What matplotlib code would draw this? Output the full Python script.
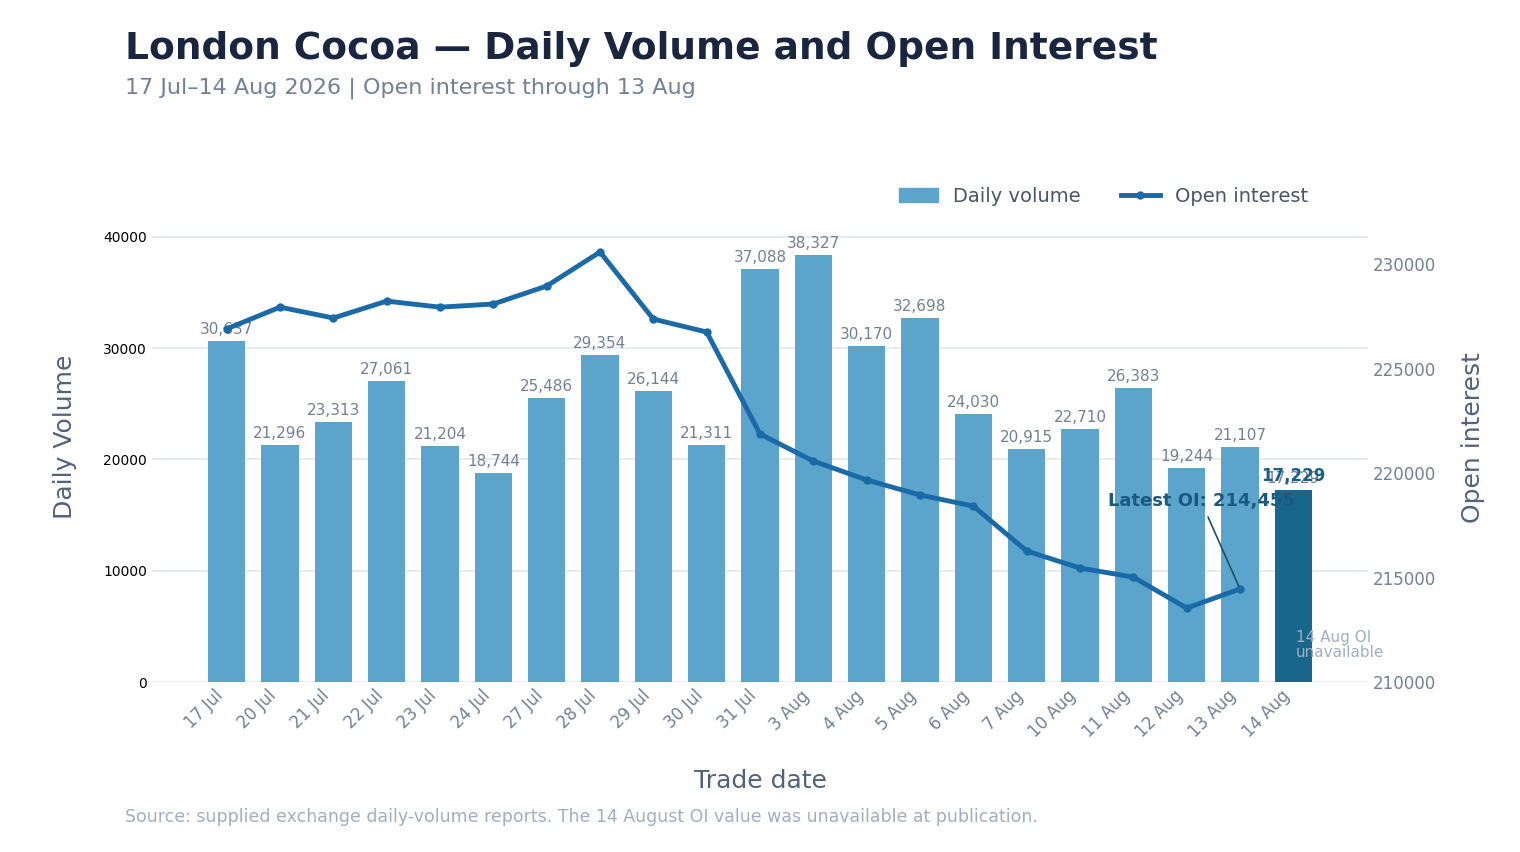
import matplotlib
matplotlib.use("Agg")
import matplotlib.pyplot as plt
import numpy as np

dates = ["17 Jul", "20 Jul", "21 Jul", "22 Jul", "23 Jul", "24 Jul", "27 Jul", "28 Jul",
         "29 Jul", "30 Jul", "31 Jul", "3 Aug", "4 Aug", "5 Aug", "6 Aug", "7 Aug",
         "10 Aug", "11 Aug", "12 Aug", "13 Aug", "14 Aug"]
volume = [30637, 21296, 23313, 27061, 21204, 18744, 25486, 29354, 26144, 21311, 37088,
          38327, 30170, 32698, 24030, 20915, 22710, 26383, 19244, 21107, 17229]
# open interest is missing for the last date
open_interest = [226900, 227940, 227420, 228230, 227940, 228090, 228950, 230580, 227370,
                 226750, 221870, 220575, 219670, 218950, 218420, 216270, 215455, 215020,
                 213540, 214455]

BAR = "#5ba5cc"
BAR_LAST = "#18668c"
LINE = "#1a6aa8"
MUTED = "#718096"
FAINT = "#a0aec0"
LABEL = "#52627e"

fig = plt.figure(figsize=(15.2, 8.52), dpi=100)
ax = fig.add_axes([0.1, 0.1995, 0.8, 0.575])
ax2 = ax.twinx()

x = np.arange(len(dates))
colors = [BAR] * (len(dates) - 1) + [BAR_LAST]
bars = ax.bar(x, volume, width=0.7, color=colors, zorder=2)
for xi, v in zip(x, volume):
    ax.annotate(f"{v:,}", (xi, v), xytext=(0, 3), textcoords="offset points",
                ha="center", va="bottom", fontsize=11, color=MUTED)
ax.annotate(f"{volume[-1]:,}", (x[-1], volume[-1]), xytext=(0, 4), textcoords="offset points",
            ha="center", va="bottom", fontsize=12, color="#1a5f85", fontweight="bold")

ax.set_xlim(-1.4, len(dates) - 1 + 1.4)
ax.set_ylim(0, 44000)
ax.set_yticks([0, 10000, 20000, 30000, 40000])
ax.yaxis.grid(True, color="#e2e8f0", lw=1.2)
ax.set_axisbelow(True)
ax.set_xticks(x)
ax.set_xticklabels(dates, rotation=45, ha="right", fontsize=12, color=MUTED)
ax.tick_params(axis="both", length=0)
ax.tick_params(axis="y", labelsize=10)
ax.set_ylabel("Daily Volume", fontsize=18, color=LABEL, labelpad=19)
ax.set_xlabel("Trade date", fontsize=18, color=LABEL, labelpad=20)

ax2.plot(x[:len(open_interest)], open_interest, color=LINE, lw=3.5, marker="o", markersize=5,
         zorder=3)
ax2.set_ylim(210000, 233445)
ax2.set_yticks([210000, 215000, 220000, 225000, 230000])
ax2.tick_params(axis="y", length=0, labelsize=12, labelcolor=MUTED)
ax2.set_ylabel("Open interest", fontsize=18, color=LABEL, labelpad=18)

for a in (ax, ax2):
    for s in a.spines.values():
        s.set_visible(False)

last = len(open_interest) - 1
ax2.annotate(f"Latest OI: {open_interest[last]:,}", (x[last], open_interest[last]),
             xytext=(-28, 63), textcoords="offset points", ha="center", va="center",
             fontsize=13, fontweight="bold", color="#1a5a80",
             arrowprops=dict(arrowstyle="-", color="#1a4f70", lw=1.2, shrinkA=3, shrinkB=2))
ax2.text(x[-1] + 0.05, 211770, "14 Aug OI\nunavailable", ha="left", va="center",
         fontsize=11, color=FAINT, linespacing=1.0)

handles = [plt.Rectangle((0, 0), 1, 1, color=BAR),
           plt.Line2D([], [], color=LINE, lw=3.5, marker="o", markersize=5)]
fig.legend(handles, ["Daily volume", "Open interest"], loc="center right",
           bbox_to_anchor=(1326 / 1520, 1 - 196 / 852), ncol=2, frameon=False,
           fontsize=14, labelcolor="#4a5568", columnspacing=2.05)

fig.text(125 / 1520, 1 - 49 / 852, "London Cocoa — Daily Volume and Open Interest",
         fontsize=27, fontweight="bold", color="#1a2540", va="center")
fig.text(125 / 1520, 1 - 88 / 852, "17 Jul–14 Aug 2026 | Open interest through 13 Aug",
         fontsize=16, color=MUTED, va="center")
fig.text(125 / 1520, 1 - 817 / 852,
         "Source: supplied exchange daily-volume reports. The 14 August OI value was unavailable at publication.",
         fontsize=12.5, color=FAINT, va="center")

fig.savefig("out.png", dpi=100)
